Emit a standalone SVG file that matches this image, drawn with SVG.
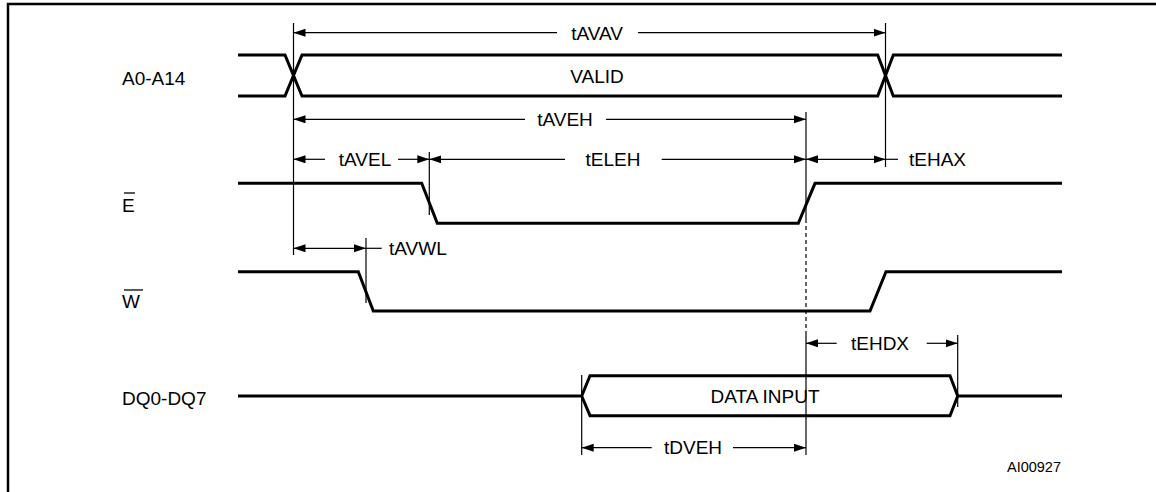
<svg xmlns="http://www.w3.org/2000/svg" width="1156" height="492" viewBox="0 0 1156 492">
<style>
.sig{fill:none;stroke:#000;stroke-width:3;stroke-linejoin:miter}
.dim{fill:none;stroke:#000;stroke-width:1.2}
.dash{fill:none;stroke:#000;stroke-width:1.2;stroke-dasharray:4 3}
.arr{fill:none;stroke:#000;stroke-width:1.2;marker-end:url(#ah)}
text{font-family:"Liberation Sans",Arial,sans-serif;font-size:19px;fill:#000}
.m{text-anchor:middle}
.small{font-size:14.5px}
</style>
<defs>
<marker id="ah" markerUnits="userSpaceOnUse" markerWidth="13" markerHeight="9" refX="12" refY="4" orient="auto">
<path d="M0,0 L12,4 L0,8 z" fill="#000"/>
</marker>
</defs>
<rect width="1156" height="492" fill="#fff"/>
<path d="M8,492 V4 H1156" fill="none" stroke="#000" stroke-width="2.5"/>

<g id="label-a">
<text x="122" y="85">A0-A14</text>
</g>
<g id="label-e">
<text x="122" y="212">E</text>
<line x1="124" y1="193" x2="135" y2="193" stroke="#000" stroke-width="1.3"/>
</g>
<g id="label-w">
<text x="122" y="308">W</text>
<line x1="124" y1="290" x2="143" y2="290" stroke="#000" stroke-width="1.3"/>
</g>
<g id="label-dq">
<text x="122" y="405">DQ0-DQ7</text>
</g>

<g id="signal-a">
<path class="sig" d="M238,55 H285 L302,96 H877.7 L893.3,55 H1062"/>
<path class="sig" d="M238,96 H285 L302,55 H877.7 L893.3,96 H1062"/>
<text class="m" x="597" y="83">VALID</text>
</g>
<g id="signal-e">
<path class="sig" d="M238,183.3 H421.7 L437.3,223.3 H798.3 L815,183.3 H1062"/>
</g>
<g id="signal-w">
<path class="sig" d="M238,271.7 H358.3 L373.3,311 H870 L886,271.7 H1062"/>
</g>
<g id="signal-dq">
<path class="sig" d="M238,396 H581.7 L590,375.7 H950 L957.7,396 L950,415.7 H590 L581.7,396 M957.7,396 H1062"/>
<text class="m" x="765" y="403">DATA INPUT</text>
</g>

<g id="connectors">
<line class="dim" x1="293.5" y1="23" x2="293.5" y2="255"/>
<line class="dim" x1="885.5" y1="23" x2="885.5" y2="167"/>
<line class="dim" x1="806" y1="112" x2="806" y2="223"/>
<line class="dash" x1="806" y1="226" x2="806" y2="335"/>
<line class="dim" x1="806" y1="335" x2="806" y2="455"/>
<line class="dim" x1="429.3" y1="152" x2="429.3" y2="215"/>
<line class="dim" x1="366" y1="238" x2="366" y2="303"/>
<line class="dim" x1="957.7" y1="335" x2="957.7" y2="407"/>
<line class="dim" x1="581.7" y1="375" x2="581.7" y2="455"/>

<line class="arr" x1="557" y1="32.7" x2="293.5" y2="32.7"/>
<line class="arr" x1="638" y1="32.7" x2="885.5" y2="32.7"/>
<text class="m" x="597" y="39.5">tAVAV</text>

<line class="arr" x1="525" y1="119.3" x2="293.5" y2="119.3"/>
<line class="arr" x1="606" y1="119.3" x2="806" y2="119.3"/>
<text class="m" x="565" y="126">tAVEH</text>

<line class="arr" x1="325" y1="159.3" x2="293.5" y2="159.3"/>
<line class="arr" x1="398" y1="159.3" x2="429.3" y2="159.3"/>
<text class="m" x="365" y="166">tAVEL</text>

<line class="arr" x1="565" y1="159.3" x2="429.3" y2="159.3"/>
<line class="arr" x1="661.7" y1="159.3" x2="806" y2="159.3"/>
<text class="m" x="613" y="166">tELEH</text>

<line class="arr" x1="845" y1="159.3" x2="806" y2="159.3"/>
<line class="arr" x1="845" y1="159.3" x2="885.5" y2="159.3"/>
<line class="dim" x1="885.5" y1="159.3" x2="898" y2="159.3"/>
<text x="909" y="166">tEHAX</text>

<line class="arr" x1="330" y1="248.3" x2="293.5" y2="248.3"/>
<line class="arr" x1="330" y1="248.3" x2="366" y2="248.3"/>
<line class="dim" x1="366" y1="248.3" x2="381.7" y2="248.3"/>
<text x="389" y="255">tAVWL</text>

<line class="arr" x1="836.7" y1="343.3" x2="806" y2="343.3"/>
<line class="arr" x1="926.7" y1="343.3" x2="957.7" y2="343.3"/>
<text class="m" x="880" y="350">tEHDX</text>

<line class="arr" x1="651.7" y1="447.7" x2="581.7" y2="447.7"/>
<line class="arr" x1="733" y1="447.7" x2="806" y2="447.7"/>
<text class="m" x="693" y="454">tDVEH</text>
</g>

<g id="ref">
<text class="small" x="1061" y="472" text-anchor="end">AI00927</text>
</g>
</svg>
